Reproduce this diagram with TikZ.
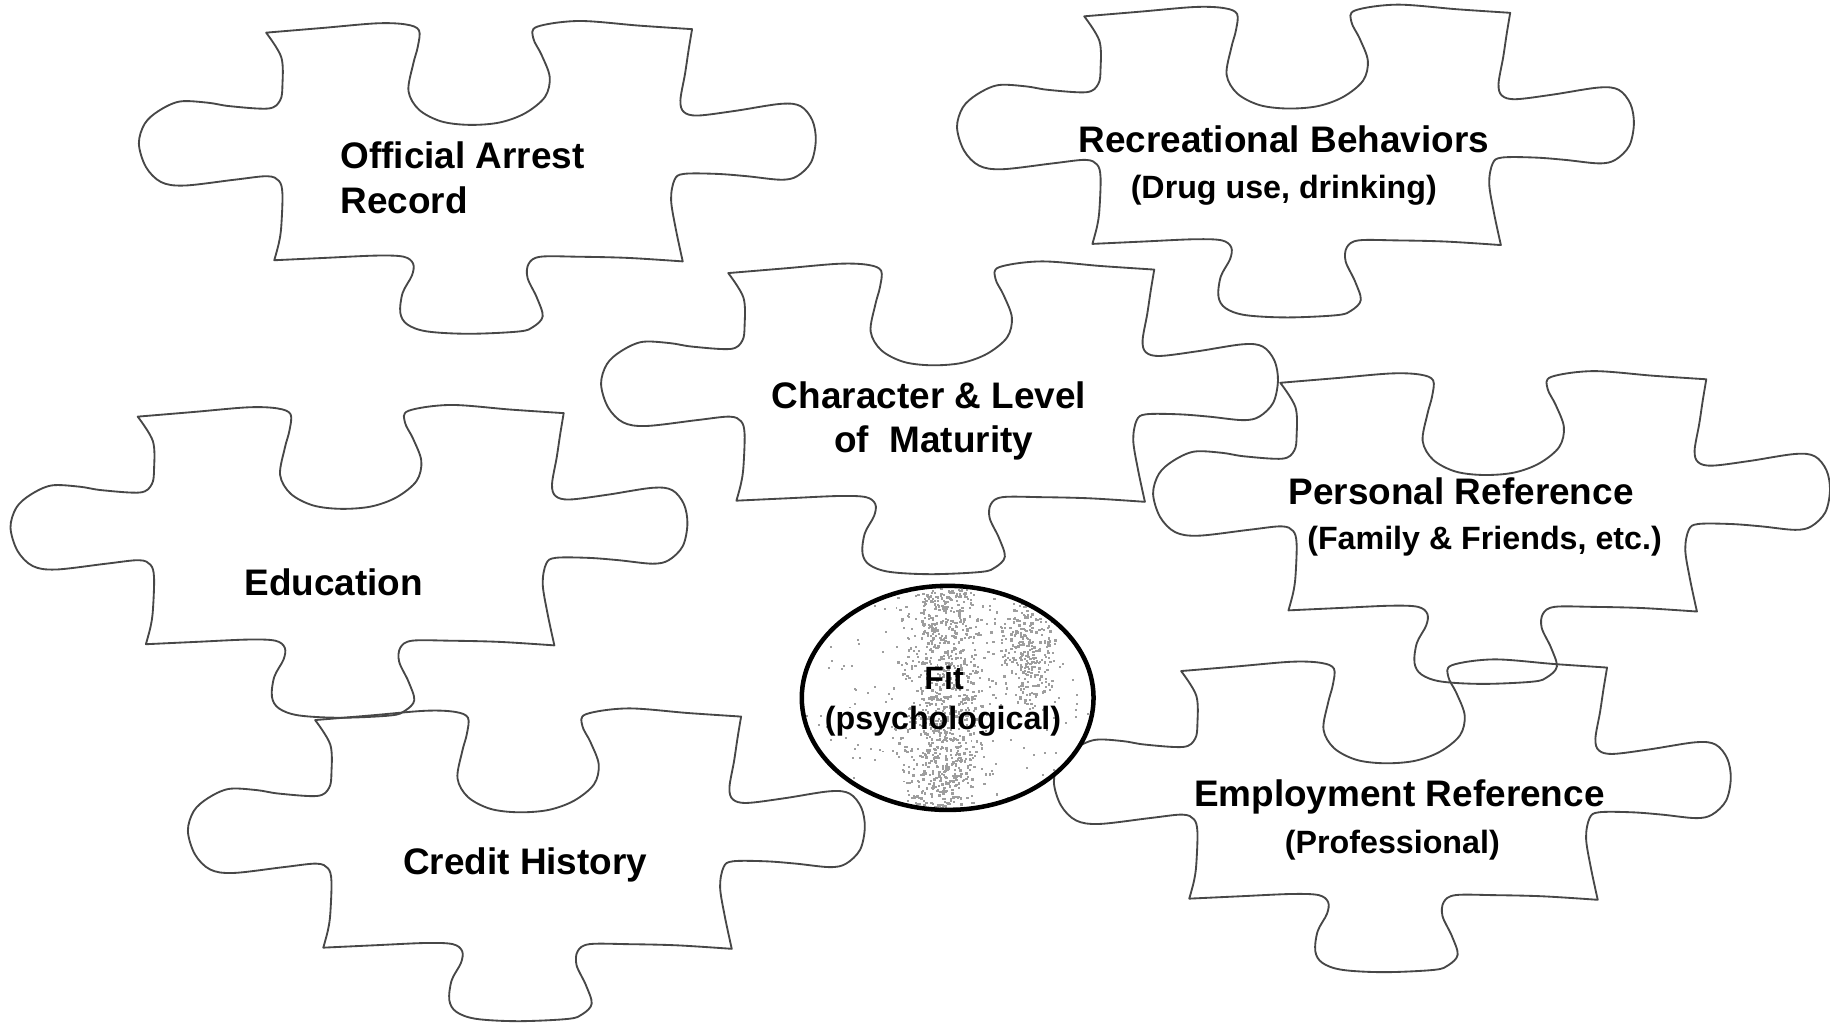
\documentclass[tikz,border=0pt]{standalone}
\usepackage{fontspec}
\setmainfont{Liberation Sans}
\newcommand\jigsaw[2]{%
\draw[piece,shift={(#1,#2)}]
 plot[smooth,tension=0.55] coordinates {(0,0) (48,-4) (95,-8) (120,-7) (131,-2) (130,12) (126,27) (122,50) (131,66) (150,76) (174,79) (200,77) (222,69) (239,55) (243,38) (236,19) (229,5) (232,-5) (268,-10) (320,-6) (365,-3)}
 -- plot[smooth,tension=0.55] coordinates {(365,-3) (362,15) (359,35) (355,58) (358,68) (370,71) (402,67) (441,61) (458,63) (468,75) (471,92) (467,111) (455,123) (441,126) (412,123) (386,121) (358,121) (350,126) (347,143) (351,168) (357,196)}
 -- plot[smooth,tension=0.55] coordinates {(357,196) (310,193) (268,192) (235,192) (225,198) (224,210) (232,227) (237,243) (229,252) (217,256) (174,258) (138,256) (121,250) (115,240) (117,223) (125,208) (126,198) (118,192) (95,191) (50,193) (7,195)}
 -- plot[smooth,tension=0.55] coordinates {(7,195) (11,180) (13,166) (14,138) (11,127) (1,123) (-27,126) (-70,131) (-90,128) (-103,115) (-109,95) (-104,78) (-92,67) (-74,59) (-50,60) (-31,63) (2,65) (12,58) (14,45) (13,21) (0,0)}
 -- cycle;}
\begin{document}
\begin{tikzpicture}[x=0.01cm,y=-0.01cm,
  piece/.style={draw=black!72, line width=0.45pt, line join=round},
  big/.style={font=\fontsize{9}{11}\selectfont\bfseries, inner sep=0pt, anchor=base},
  small/.style={font=\fontsize{7.85}{9.5}\selectfont\bfseries, inner sep=0pt, anchor=base},
  speck/.style={fill=black!38}]
\fill[white] (0,0) rectangle (1568,877);
\useasboundingbox (0,0) rectangle (1568,877);
% puzzle pieces
\jigsaw{228}{28}
\jigsaw{929}{14}
\jigsaw{624}{234}
\jigsaw{118}{357}
\jigsaw{270}{617}
\jigsaw{1097}{328}
\jigsaw{1012}{575}
% fit ellipse
\fill[white] (812,598) ellipse (125 and 96);
\begin{scope}
\clip (812,598) ellipse (125 and 96);
\pgfmathsetseed{12}
\foreach \i in {1,...,900}{%
  \pgfmathsetmacro{\xx}{808+30*(rnd+rnd+rnd+rnd-2)}
  \pgfmathsetmacro{\yy}{503+192*rnd}
  \fill[speck] (\xx,\yy) rectangle ++(2,2);}
\foreach \i in {1,...,260}{%
  \pgfmathsetmacro{\xx}{878+30*(rnd+rnd-1)}
  \pgfmathsetmacro{\yy}{560+55*(rnd+rnd-1)}
  \fill[speck] (\xx,\yy) rectangle ++(2,2);}
\foreach \i in {1,...,220}{%
  \pgfmathsetmacro{\xx}{687+250*rnd}
  \pgfmathsetmacro{\yy}{502+192*rnd}
  \fill[speck] (\xx,\yy) rectangle ++(1.7,1.7);}
\end{scope}
\draw[line width=1.1pt] (812,598) ellipse (125 and 96);
% labels
\node[big,anchor=base west] (oar1) at (291,144) {Official Arrest};
\node[big,anchor=base west] (oar2) at (291,183) {Record};
\node[big] (rb1) at (1100,131) {Recreational Behaviors};
\node[small] (rb2) at (1100,170) {(Drug use, drinking)};
\node[big] (ch1) at (796,350) {Character \& Level};
\node[big] (ch2) at (800,388) {of\ \ Maturity};
\node[big] (ed) at (286,510) {Education};
\node[big] (cr) at (450,749) {Credit History};
\node[big] (pr1) at (1252,432) {Personal Reference};
\node[small] (pr2) at (1272,471) {(Family \& Friends, etc.)};
\node[big] (em1) at (1199,691) {Employment Reference};
\node[small] (em2) at (1193,731) {(Professional)};
\node[small] (fit1) at (809,591) {Fit};
\node[small] (fit2) at (808,625) {(psychological)};
\end{tikzpicture}
\end{document}
